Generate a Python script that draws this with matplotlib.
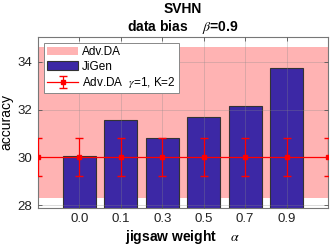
import matplotlib
matplotlib.use('Agg')
import matplotlib.pyplot as plt
import numpy as np

plt.rcParams['font.family'] = ['Liberation Sans', 'DejaVu Sans']
plt.rcParams['mathtext.fontset'] = 'stix'

# data
weights = ['0.0', '0.1', '0.3', '0.5', '0.7', '0.9']
jigen_acc = [30.05, 31.55, 30.82, 31.70, 32.17, 33.73]
advda_band_low = 28.3
advda_band_high = 34.63
advda_x = [0, 1, 2, 3, 4, 5, 6, 7]
advda_mean = [30.02] * 8
advda_err = [0.8] * 8

pos = np.arange(1, len(weights) + 1)

fig = plt.figure(figsize=(3.32, 2.48), dpi=100)
ax = fig.add_axes([0.1145, 0.1625, 0.8735, 0.6895])

ax.fill_between([0, 7], advda_band_low, advda_band_high, color='#ffb3b3',
                linewidth=0, label='Adv.DA', zorder=1)
ax.bar(pos, jigen_acc, width=0.8, color='#3c28a5', edgecolor='#333333',
       linewidth=0.8, label='JiGen', zorder=2)
ax.errorbar(advda_x, advda_mean, yerr=advda_err, color='#ff0000', lw=0.9,
            marker='s', ms=3, capsize=3, elinewidth=0.9, clip_on=True,
            label=r'Adv.DA  $\gamma$=1, K=2', zorder=3)

ax.set_xlim(0, 7)
ax.set_ylim(27.9, 35.05)
ax.set_xticks(pos)
ax.set_xticklabels(weights)
ax.set_yticks([28, 30, 32, 34])
ax.tick_params(direction='in', top=True, right=True, length=3, labelsize=9.5,
               color='#555555', labelcolor='#222222', width=0.6, pad=4)
ax.grid(True, color='#888888', alpha=0.35, linewidth=0.6, zorder=4)
ax.set_axisbelow(False)
for s in ax.spines.values():
    s.set_color('#777777')
    s.set_linewidth(0.8)

ax.set_title('SVHN\ndata bias    $\\beta$=0.9', fontsize=10, fontweight='bold',
             pad=4, linespacing=1.2)
ax.set_xlabel('jigsaw weight    $\\alpha$', fontsize=10, fontweight='bold', labelpad=2)
ax.set_ylabel('accuracy', fontsize=10, labelpad=3)

leg = ax.legend(loc='upper left', fontsize=8.5, frameon=True, fancybox=False,
                edgecolor='#888888', framealpha=1, borderpad=0.3,
                handlelength=2.6, handletextpad=0.3, labelspacing=0.2,
                borderaxespad=0.5)
leg.get_frame().set_linewidth(0.7)

fig.savefig('out.png', dpi=100)
